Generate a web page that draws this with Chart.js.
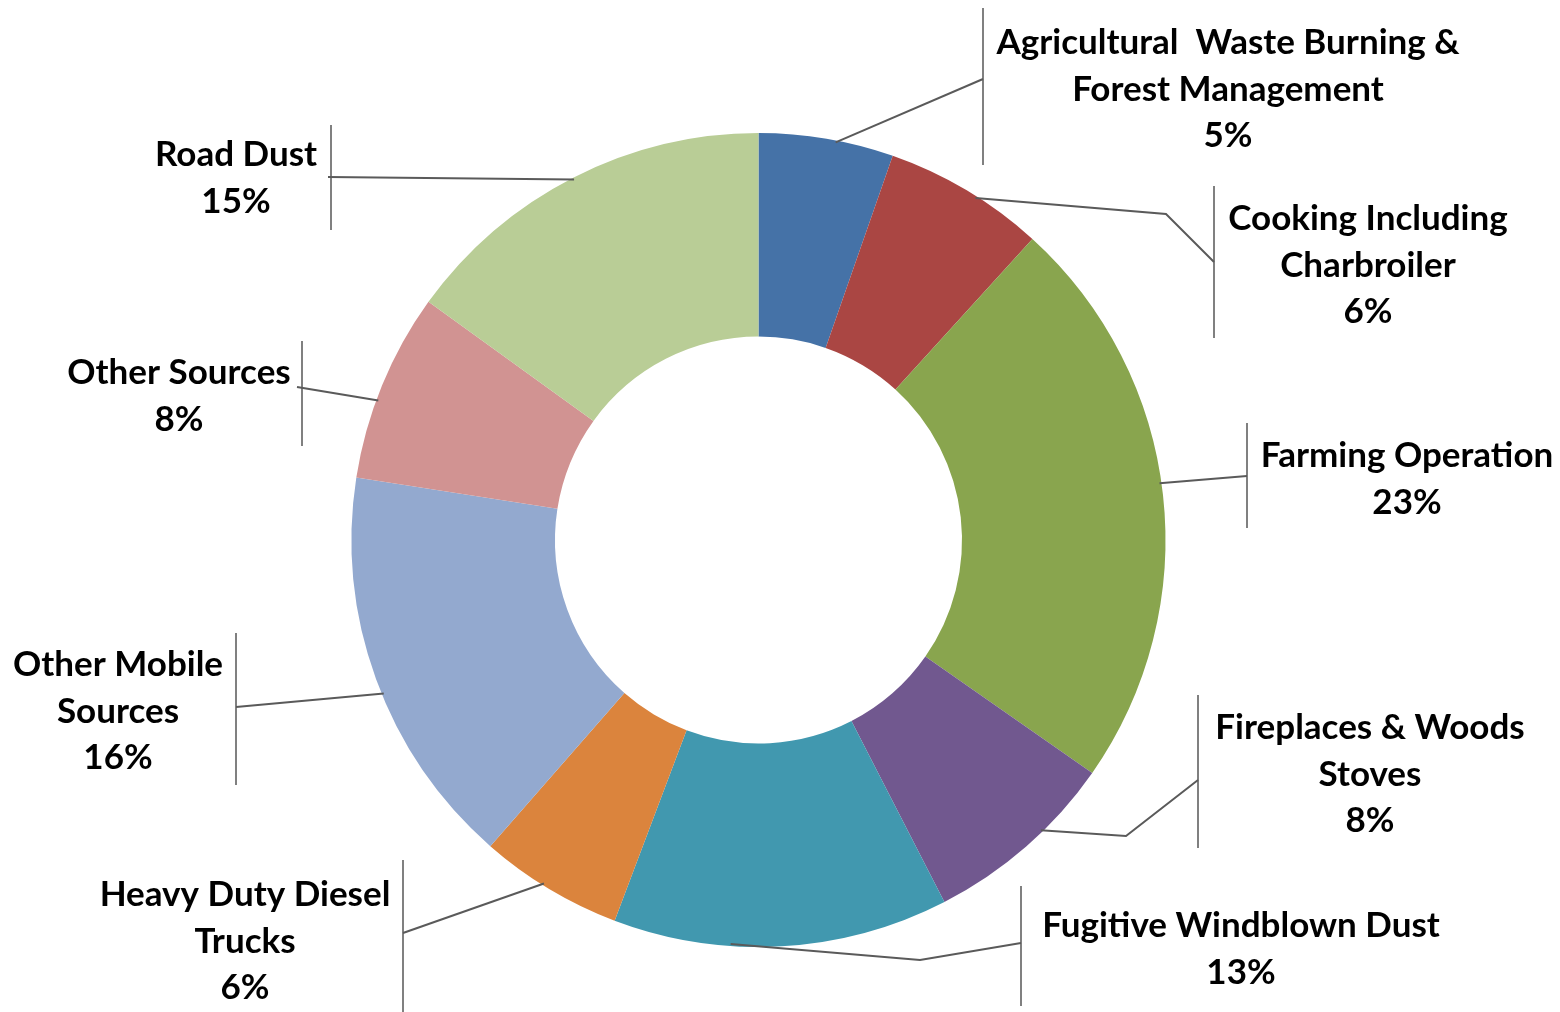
<!DOCTYPE html>
<html>
<head>
<meta charset="utf-8">
<script src="https://cdn.jsdelivr.net/npm/chart.js@4.4.1/dist/chart.umd.min.js"></script>
<style>
  html, body { margin: 0; padding: 0; background: #fff; }
  #wrap { width: 1560px; height: 1012px; }
</style>
</head>
<body>
<div id="wrap"><canvas id="chart" width="1560" height="1012"></canvas></div>
<script>
// PM2.5 emission sources, share of total (%)
var categories = [
    'Agricultural  Waste Burning & Forest Management',
    'Cooking Including Charbroiler',
    'Farming Operation',
    'Fireplaces & Woods Stoves',
    'Fugitive Windblown Dust',
    'Heavy Duty Diesel Trucks',
    'Other Mobile Sources',
    'Other Sources',
    'Road Dust'
];
var shares = [5.35, 6.4, 22.95, 7.75, 13.3, 5.7, 16.0, 7.5, 15.05];
var colors = ['#4572A7', '#AA4643', '#89A54E', '#71588F', '#4198AF',
              '#DB843D', '#93A9CF', '#D19392', '#B9CD96'];

// label placement: split = words on first line(s), cx = text centre,
// base = first baseline, bar = vertical rule, via = leader elbows, end = leader end,
// at = where along the slice the leader starts
var labelLayout = [
    { split: [5], cx: 1228, base: 54,  bar: [983, 8, 165],    via: [],           end: [983, 79],   at: 0.57 },
    { split: [2], cx: 1368, base: 230, bar: [1214, 186, 338], via: [[1166, 214]], end: [1214, 262], at: 0.57 },
    { split: [],  cx: 1407, base: 467, bar: [1247, 423, 528], via: [],           end: [1247, 476], at: 0.48 },
    { split: [3], cx: 1370, base: 739, bar: [1198, 695, 848], via: [[1126, 836]], end: [1198, 780], at: 0.39 },
    { split: [],  cx: 1241, base: 937, bar: [1021, 886, 1006], via: [[920, 960]], end: [1021, 943], at: 0.65 },
    { split: [3], cx: 245,  base: 906, bar: [403, 860, 1012], via: [],           end: [403, 933],  at: 0.55 },
    { split: [2], cx: 118,  base: 676, bar: [236, 633, 785],  via: [],           end: [236, 707],  at: 0.46 },
    { split: [],  cx: 179,  base: 384, bar: [302, 341, 446],  via: [],           end: [297, 387],  at: 0.42 },
    { split: [],  cx: 236,  base: 166, bar: [331, 125, 230],  via: [],           end: [328, 177],  at: 0.50 }
];
var lineStep = 46.5;

function labelLines(name, split) {
    var words = name.split(' ');
    var lines = [];
    var pos = 0;
    split.forEach(function (n) {
        lines.push(words.slice(pos, pos + n).join(' '));
        pos += n;
    });
    lines.push(words.slice(pos).join(' '));
    return lines;
}

var calloutPlugin = {
    id: 'callouts',
    afterDatasetsDraw: function (chart) {
        var ctx = chart.ctx;
        var meta = chart.getDatasetMeta(0);
        ctx.save();
        meta.data.forEach(function (arc, i) {
            var lay = labelLayout[i];
            var a = arc.startAngle + lay.at * (arc.endAngle - arc.startAngle);
            var r = arc.outerRadius - 2;
            var sx = arc.x + Math.cos(a) * r;
            var sy = arc.y + Math.sin(a) * r;

            // vertical rule beside the label
            ctx.strokeStyle = '#808080';
            ctx.lineWidth = 2;
            ctx.beginPath();
            ctx.moveTo(lay.bar[0], lay.bar[1]);
            ctx.lineTo(lay.bar[0], lay.bar[2]);
            ctx.stroke();

            // leader line
            ctx.strokeStyle = '#5a5a5a';
            ctx.lineWidth = 2;
            ctx.beginPath();
            ctx.moveTo(sx, sy);
            lay.via.forEach(function (p) { ctx.lineTo(p[0], p[1]); });
            ctx.lineTo(lay.end[0], lay.end[1]);
            ctx.stroke();

            // text
            var lines = labelLines(categories[i], lay.split);
            lines.push(Math.round(shares[i]) + '%');
            ctx.fillStyle = '#000';
            ctx.font = 'bold 35px Lato';
            ctx.textAlign = 'center';
            ctx.textBaseline = 'alphabetic';
            lines.forEach(function (t, k) {
                ctx.fillText(t, lay.cx, lay.base + k * lineStep);
            });
        });
        ctx.restore();
    }
};

var ctx = document.getElementById('chart').getContext('2d');
var chart = new Chart(ctx, {
    type: 'doughnut',
    data: {
        labels: categories,
        datasets: [{
            data: shares,
            backgroundColor: colors,
            borderWidth: 0
        }]
    },
    options: {
        responsive: false,
        animation: false,
        cutout: '50%',
        radius: 407,
        layout: {
            padding: { left: 351.5, right: 394.5, top: 133, bottom: 65 }
        },
        plugins: {
            legend: { display: false },
            tooltip: { enabled: false }
        }
    },
    plugins: [calloutPlugin]
});
</script>
</body>
</html>
